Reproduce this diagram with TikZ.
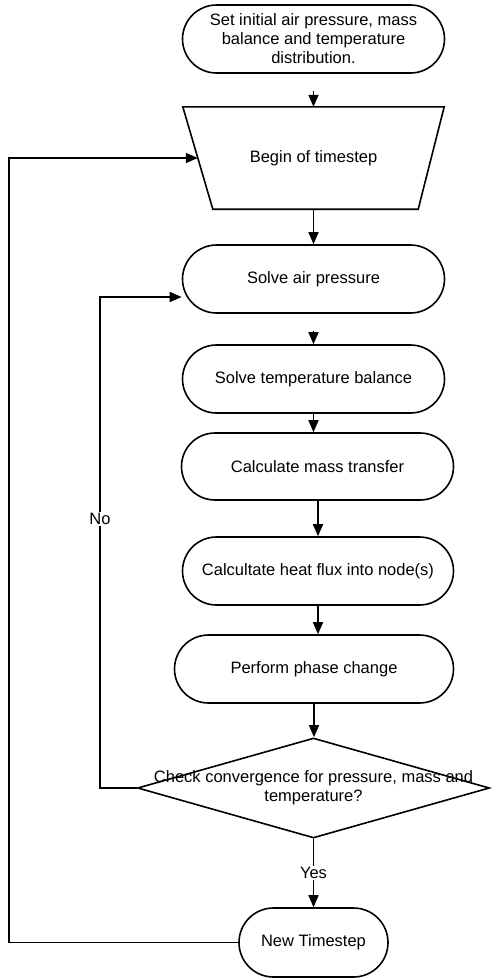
\documentclass[tikz,border=0pt]{standalone}
\usepackage{fontspec}
\setmainfont{Liberation Sans}
\usetikzlibrary{arrows.meta,shapes.geometric,shapes.misc}
\begin{document}
\begin{tikzpicture}[x=1pt,y=-1pt,
  every node/.style={font=\fontsize{16.5}{19}\selectfont},
  box/.style={draw, line width=1.6pt, rounded rectangle, minimum height=68pt, inner xsep=-25pt, inner ysep=2pt, align=center},
  trapbox/.style={minimum width=261pt, minimum height=102pt, inner sep=0pt},
  trapline/.style={line width=1.6pt, line join=miter},
  decision/.style={draw, line width=1.6pt, diamond, minimum width=352pt, minimum height=100pt, inner sep=0pt},
  arr/.style={line width=1.6pt, -{Triangle[length=12pt,width=10pt]}},
  lbl/.style={fill=white, inner sep=1.5pt}]
\useasboundingbox (0,0) rectangle (495,980);

\node[box, minimum width=212pt] (top) at (313.5,39) {Set initial air pressure, mass\\balance and temperature\\distribution.};
\node[trapbox] (trap) at (313.5,158) {Begin of timestep};
\draw[trapline] (trap.north west) -- (trap.north east) -- ([xshift=-26pt]trap.south east) -- ([xshift=30pt]trap.south west) -- cycle;
\node[box, minimum width=212pt] (sap) at (313.5,279) {Solve air pressure};
\node[box, minimum width=212pt] (stb) at (313.5,379) {Solve temperature balance};
\node[box, minimum width=222pt, minimum height=67pt] (cmt) at (317.5,466.5) {Calculate mass transfer};
\node[box, minimum width=221pt] (chf) at (318,571) {Calcultate heat flux into node(s)};
\node[box, minimum width=229pt] (ppc) at (314,669) {Perform phase change};
\node[decision] (dia) at (313.5,788) {};
\node[align=center] (diatext) at (313.5,788) {Check convergence for pressure, mass and\\temperature?};
\node[box, minimum width=99pt, minimum height=69pt] (nts) at (313.5,942.5) {New Timestep};

\coordinate (lft) at (9,500);
\coordinate (nol) at (100,519);
\coordinate (nain) at ([yshift=-18pt]sap.west);
\coordinate (tin) at ([xshift=15pt]trap.west);

\draw[arr, shorten <=17pt] (top.south) -- (trap.north);
\draw[arr] (trap.south) -- (sap.north);
\draw[arr, shorten <=17pt] (sap.south) -- (stb.north);
\draw[arr] (stb.south) -- (stb.south |- cmt.north);
\draw[arr] (chf.north |- cmt.south) -- (chf.north);
\draw[arr] (chf.south) -- (chf.south |- ppc.north);
\draw[arr] (ppc.south) -- (ppc.south |- dia.north);
\draw[arr] (dia.south) -- node[lbl] (yes) {Yes} (nts.north);
\draw[arr] (nts.west) -| (lft) |- (tin);
\draw[arr] (dia.west) -| (nol) |- (nain);
\node[lbl] (no) at (nol) {No};
\end{tikzpicture}
\end{document}
